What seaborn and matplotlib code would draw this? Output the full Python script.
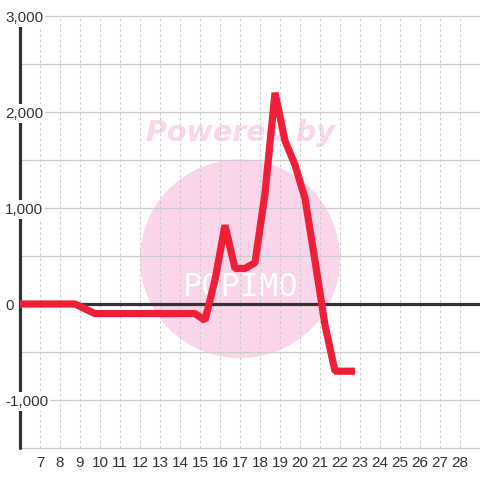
import matplotlib
matplotlib.use("Agg")
import matplotlib.pyplot as plt
import seaborn as sns
import pandas as pd
from matplotlib.patches import Ellipse

# ---- data ----
x_pos = [5.75, 6.25, 6.75, 7.25, 7.75, 8.25, 8.75, 9.25, 9.75,
         10.25, 10.75, 11.25, 11.75, 12.25, 12.75, 13.25, 13.75, 14.25, 14.75,
         15.25, 15.75, 16.25, 16.75, 17.25, 17.75, 18.25, 18.75, 19.25, 19.75,
         20.25, 20.75, 21.25, 21.75, 22.25, 22.75]
values = [0, 0, 0, 0, 0, 0, 0, -50, -100,
          -100, -100, -100, -100, -100, -100, -100, -100, -100, -100,
          -170, 250, 820, 370, 370, 430, 1150, 2200, 1700, 1450,
          1100, 450, -220, -700, -700, -700]
x_ticks = [7, 8, 9, 10, 11, 12, 13, 14, 15, 16, 17, 18, 19, 20, 21, 22, 23, 24, 25, 26, 27, 28]
y_ticks = [-1000, 0, 1000, 2000, 3000]
y_tick_labels = ["-1,000", "0", "1,000", "2,000", "3,000"]
h_grid = [-1500, -1000, -500, 500, 1000, 1500, 2000, 2500, 3000]

df = pd.DataFrame({"x": x_pos, "y": values})

sns.set_theme(style="white")
plt.rcParams["font.family"] = ["Liberation Sans", "DejaVu Sans"]

RED = "#ee1f36"
DARK = "#333333"
GRID = "#cbcbcb"
PINK = "#fbd5ea"

fig = plt.figure(figsize=(4.8, 4.8), dpi=100)
fig.patch.set_facecolor("white")
ax = fig.add_axes([20 / 480, 32 / 480, 460 / 480, 432 / 480])
ax.set_facecolor("white")
ax.set_xlim(6, 29)
ax.set_ylim(-1500, 3000)

# watermark
ax.add_patch(Ellipse((17, 470), 10, 2070, facecolor=PINK, edgecolor="none", zorder=0.5))
ax.text(17, 1781, "Powered by", ha="center", va="center", color=PINK,
        fontsize=20.5, fontweight="heavy", fontstyle="italic",
        family=["DejaVu Sans"], zorder=0.6)
ax.text(17.05, 170, "POPIMO", ha="center", va="center", color="white",
        fontsize=23, family=["DejaVu Sans Mono"], zorder=0.6)

# grid
for gy in h_grid:
    ax.axhline(gy, color=GRID, lw=0.9, zorder=1, clip_on=False)
for gx in x_ticks:
    ax.axvline(gx, color=GRID, lw=0.75, ls=(0, (2.5, 2.5)), zorder=1)

ax.axhline(0, color=DARK, lw=2.3, zorder=2.5)
ax.axvline(6, color=DARK, lw=2.3, zorder=2.5, clip_on=False)

sns.lineplot(data=df, x="x", y="y", color=RED, lw=5.2, ax=ax, zorder=3)
ln = ax.lines[-1]
ln.set_solid_joinstyle("bevel")
ln.set_solid_capstyle("butt")

for s in ax.spines.values():
    s.set_visible(False)

ax.set_xlabel("")
ax.set_ylabel("")
ax.set_xticks(x_ticks)
ax.set_xticklabels([str(t) for t in x_ticks])
ax.set_yticks(y_ticks)
ax.set_yticklabels(y_tick_labels)
ax.tick_params(axis="x", length=0, pad=5.5, labelsize=11, labelcolor=DARK)
ax.tick_params(axis="y", length=0, pad=10.8, labelsize=11, labelcolor=DARK)
for lbl in ax.get_yticklabels():
    lbl.set_horizontalalignment("left")
    lbl.set_bbox(dict(facecolor="white", edgecolor="none", pad=1.5))
ax.yaxis.set_zorder(5)

fig.savefig("out.png", dpi=100)
